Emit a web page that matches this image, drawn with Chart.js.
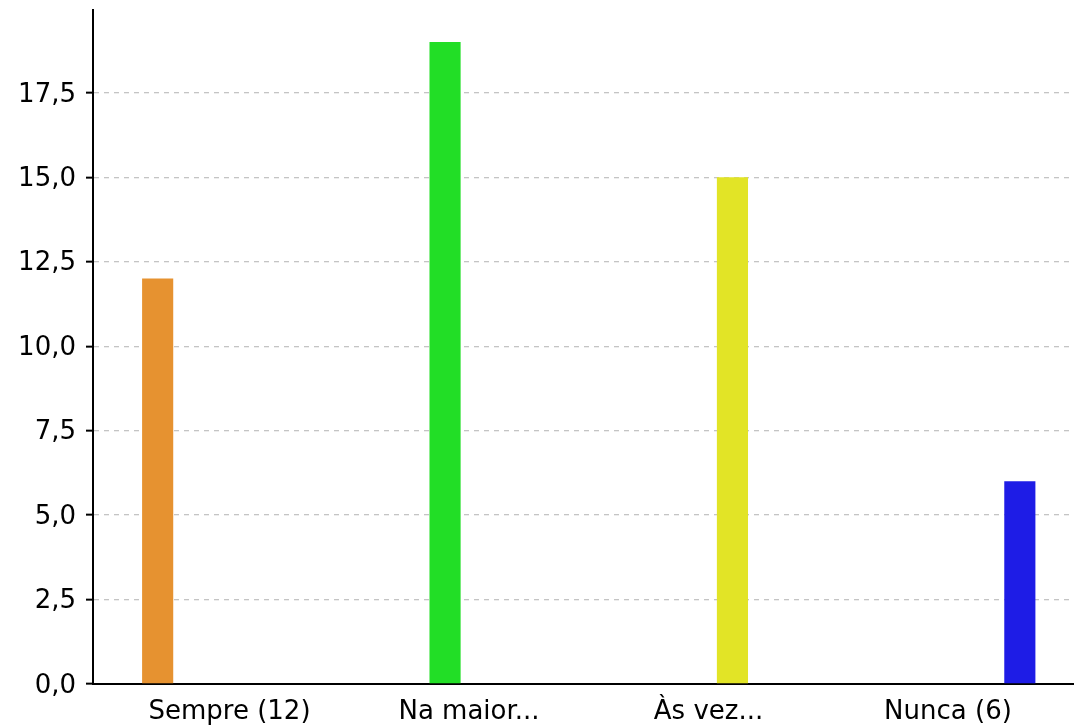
<!DOCTYPE html>
<html>
<head>
<meta charset="utf-8">
<script src="https://cdn.jsdelivr.net/npm/chart.js@4"></script>
<style>
  html, body { margin: 0; padding: 0; background: #fff; }
  #wrap { width: 1075px; height: 725px; position: relative; }
</style>
</head>
<body>
<div id="wrap"><canvas id="c"></canvas></div>
<script>
const categories = ['Sempre (12)', 'Na maior...', 'Às vez...', 'Nunca (6)'];
const values = [12, 19, 15, 6];
const colors = ['#e69230', '#22de26', '#e2e426', '#1e1ce6'];
const yStep = 2.5;
const yMax = 19.95;

const datasets = values.map((v, k) => ({
  label: categories[k],
  data: [{ x: k, y: v }],
  backgroundColor: colors[k],
  borderWidth: 0,
  categoryPercentage: 0.8,
  barPercentage: 0.65
}));

const FONT = 'DejaVu Sans';

new Chart(document.getElementById('c'), {
  type: 'bar',
  data: { datasets },
  options: {
    responsive: true,
    maintainAspectRatio: false,
    animation: false,
    layout: { padding: { left: 0, top: 10, right: 2, bottom: 0 } },
    plugins: { legend: { display: false }, tooltip: { enabled: false } },
    scales: {
      x: {
        type: 'linear',
        offset: false,
        min: -0.57,
        max: 3.522,
        afterFit: (s) => { s.height = 41; s.paddingLeft = 0; s.paddingRight = 0; },
        ticks: {
          stepSize: 1,
          includeBounds: false,
          autoSkip: false,
          maxRotation: 0,
          padding: 13,
          color: '#000',
          font: { family: FONT, size: 26 },
          callback: (v) => categories[v] !== undefined ? categories[v] : ''
        },
        grid: { display: false, drawTicks: false, offset: false },
        border: { display: true, color: '#000', width: 2 }
      },
      y: {
        min: 0,
        max: yMax,
        afterFit: (s) => { s.width = 93; s.paddingTop = 0; s.paddingBottom = 0; },
        ticks: {
          stepSize: yStep,
          includeBounds: false,
          padding: 10,
          labelOffset: 2,
          color: '#000',
          font: { family: FONT, size: 26 },
          callback: (v) => v.toFixed(1).replace('.', ',')
        },
        grid: {
          color: '#c4c4c4',
          lineWidth: 1.3,
          tickColor: '#000',
          tickWidth: 2,
          tickLength: 7
        },
        border: { display: true, color: '#000', width: 2, dash: [5, 5] }
      }
    }
  }
});
</script>
</body>
</html>
